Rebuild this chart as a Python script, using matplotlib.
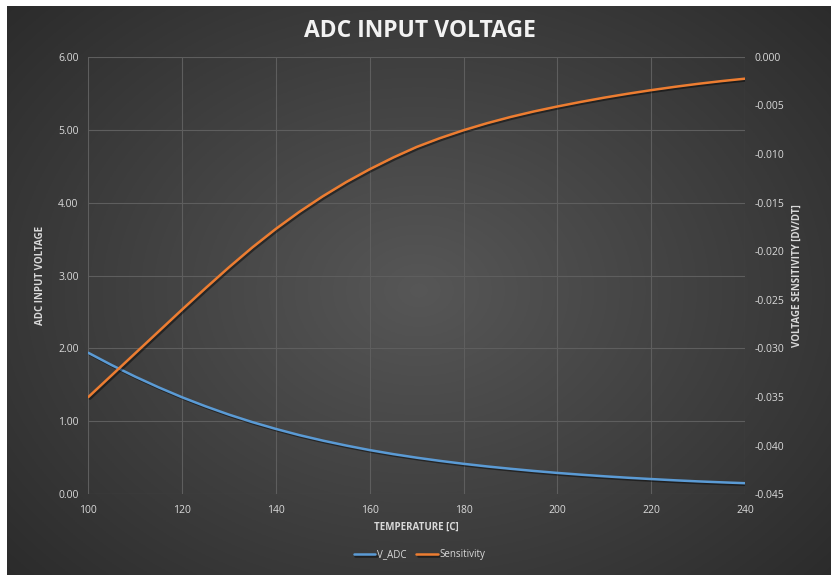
import numpy as np
import matplotlib
matplotlib.use("Agg")
from matplotlib import pyplot as plt
from matplotlib import patheffects as pe

# temperature sweep [C]
temps = [100, 105, 110, 115, 120, 125, 130, 135, 140, 145, 150, 155, 160, 165, 170,
         175, 180, 185, 190, 195, 200, 205, 210, 215, 220, 225, 230, 235, 240]

# voltage seen at the ADC pin [V]
v_adc = [1.940, 1.771, 1.613, 1.466, 1.330, 1.206, 1.092, 0.989, 0.896, 0.811,
         0.736, 0.668, 0.606, 0.551, 0.502, 0.458, 0.418, 0.382, 0.350, 0.320,
         0.293, 0.269, 0.247, 0.227, 0.209, 0.192, 0.177, 0.164, 0.152]

# dV/dT [V/C]
sensitivity = [-0.03500, -0.03275, -0.03050, -0.02825, -0.02600, -0.02380, -0.02165,
               -0.01960, -0.01770, -0.01595, -0.01435, -0.01289, -0.01157, -0.01037,
               -0.00928, -0.00837, -0.00756, -0.00684, -0.00620, -0.00563, -0.00512,
               -0.00465, -0.00421, -0.00381, -0.00344, -0.00310, -0.00279, -0.00251,
               -0.00226]

x_ticks = [100, 120, 140, 160, 180, 200, 220, 240]
left_ticks = [0, 1, 2, 3, 4, 5, 6]
right_ticks = [0.000, -0.005, -0.010, -0.015, -0.020, -0.025, -0.030, -0.035, -0.040, -0.045]

blue = "#5B9BD5"
orange = "#ED7D31"
txt = "#d9d9d9"
grid_col = "#5e5e5e"

plt.rcParams['font.family'] = ['Open Sans', 'DejaVu Sans']

fig = plt.figure(figsize=(8.31, 5.75), dpi=100)
fig.patch.set_facecolor("white")

# dark radial background of the chart
bg = fig.add_axes([7 / 831, 0, 1 - 7 / 831, 1 - 6 / 575], zorder=-10)
gx, gy = np.meshgrid(np.linspace(-1, 1, 400), np.linspace(-1, 1, 300))
r = np.sqrt(gx ** 2 + (gy * 0.9) ** 2)
shade = 0.34 - 0.17 * np.clip(r / 1.35, 0, 1)
bg.imshow(np.dstack([shade] * 3), aspect="auto", extent=[0, 1, 0, 1])
bg.set_axis_off()

ax = fig.add_axes([88.3 / 831, 1 - 494.3 / 575, (745 - 88.3) / 831, (494.3 - 56.7) / 575])
ax.patch.set_alpha(0)
ax2 = ax.twinx()
ax2.patch.set_alpha(0)

shadow = [pe.SimpleLineShadow(offset=(1.2, -1.2), shadow_color="black", alpha=0.45), pe.Normal()]
l1, = ax.plot(temps, v_adc, color=blue, lw=1.8, label="V_ADC", path_effects=shadow,
              solid_capstyle="round", solid_joinstyle="round")
l2, = ax2.plot(temps, sensitivity, color=orange, lw=1.8, label="Sensitivity",
               path_effects=shadow, solid_capstyle="round", solid_joinstyle="round")

ax.set_xlim(100, 240)
ax.set_ylim(0, 6)
ax2.set_ylim(-0.045, 0)
ax.set_xticks(x_ticks)
ax.set_yticks(left_ticks)
ax.set_yticklabels([f"{v:.2f}" for v in left_ticks])
ax2.set_yticks(right_ticks)
ax2.set_yticklabels([f"{v:.3f}" for v in right_ticks])

ax.grid(True, color=grid_col, lw=0.8)
ax.set_axisbelow(True)
for a in (ax, ax2):
    for s in a.spines.values():
        s.set_visible(False)
    a.tick_params(length=0, colors=txt, labelsize=7.5)
ax.tick_params(axis="y", pad=7)
ax.tick_params(axis="x", pad=8)
ax2.tick_params(axis="y", pad=7)

ax.set_xlabel("TEMPERATURE [C]", color=txt, fontsize=7, fontweight="bold", labelpad=4)
ax.set_ylabel("ADC INPUT VOLTAGE", color=txt, fontsize=7, fontweight="bold", labelpad=9)
ax2.set_ylabel("VOLTAGE SENSITIVITY [DV/DT]", color=txt, fontsize=7, fontweight="bold",
               labelpad=5)

fig.text(0.5 + 4 / 831, 1 - 31 / 575, "ADC INPUT VOLTAGE", color="#f2f2f2", fontsize=16.5,
         fontweight="bold", ha="center", va="center")

leg = fig.legend(handles=[l1, l2], loc="center", bbox_to_anchor=(0.5 + 4 / 831, 1 - 555 / 575),
                 ncol=2, frameon=False, fontsize=7, handlelength=2.2, handletextpad=0.2,
                 columnspacing=1.0)
for t in leg.get_texts():
    t.set_color(txt)

fig.savefig("out.png", dpi=100)
